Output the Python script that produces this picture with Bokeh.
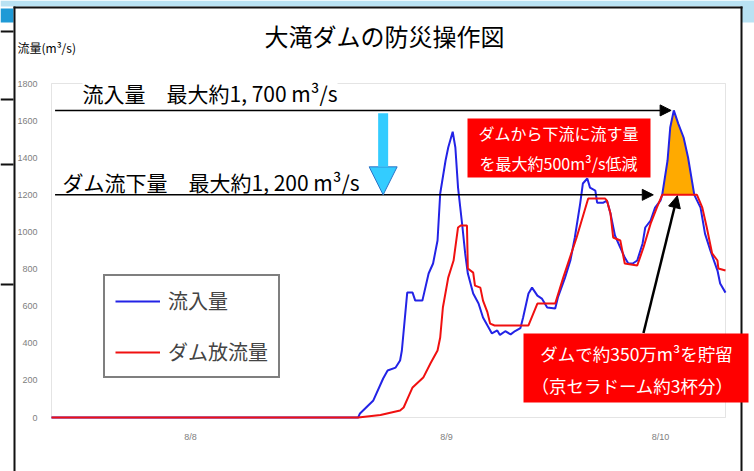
import numpy as np
from bokeh.plotting import figure
from bokeh.models import (Range1d, FixedTicker, Label, BoxAnnotation, Arrow,
                          NormalHead, Legend, LegendItem)
from bokeh.embed import file_html
from bokeh.resources import INLINE

# ---- flood record, Otaki Dam (hours from start of record, m3/s) ----
inflow_hours = [0, 34.4, 34.6, 36.1, 37.2, 37.7, 38.6, 39.1, 39.3, 39.9, 40.5,
                40.8, 41.6, 42.3, 42.8, 43.3, 43.6, 44.2, 44.5, 45.0, 45.3,
                45.6, 46.1, 46.4, 46.7, 47.3, 47.9, 48.4, 49.4, 50.0, 50.3,
                50.9, 51.5, 52.0, 52.6, 52.9, 53.5, 53.9, 54.5, 55.0, 55.6,
                56.5, 56.8, 57.6, 58.2, 58.7, 59.3, 59.6, 60.1, 60.4, 61.0,
                61.2, 61.9, 62.3, 62.7, 63.2, 63.8, 64.3, 64.7, 65.2, 65.7,
                66.3, 66.6, 67.2, 67.7, 68.3, 68.5, 69.1, 69.4, 69.8, 70.3,
                70.9, 71.4, 72.1, 72.8, 73.3, 73.9, 74.7, 75.0, 75.6]
inflow = [0, 0, 22, 92, 210, 253, 269, 307, 361, 673, 673,
          630, 630, 776, 830, 954, 1207, 1385, 1455, 1540, 1455,
          1239, 1024, 884, 776, 668, 614, 539, 453, 469, 445,
          465, 448, 466, 482, 539, 668, 700, 657, 641, 593,
          587, 647, 754, 846, 970, 1153, 1261, 1288, 1239, 1223,
          1158, 1158, 1169, 1099, 981, 916, 862, 830, 830, 846,
          938, 1024, 1061, 1131, 1169, 1200, 1385, 1563, 1655, 1584,
          1509, 1401, 1200, 1131, 991, 900, 792, 722, 673]

release_hours = [0, 34.4, 36.9, 39.1, 39.5, 40.0, 40.5, 41.7, 42.5, 43.3,
                 43.6, 43.9, 44.5, 45.1, 45.6, 45.9, 46.6, 46.7, 47.3, 47.5,
                 48.1, 48.4, 48.9, 49.2, 49.7, 53.5, 54.5, 56.5, 57.4, 58.9,
                 60.2, 62.1, 62.3, 62.7, 63.0, 63.8, 64.3, 65.7, 66.4, 67.2,
                 67.9, 68.5, 72.4, 73.0, 73.5, 74.1, 74.7, 74.8, 75.6]
release = [0, 0, 14, 38, 54, 108, 162, 215, 291, 361,
           431, 593, 754, 846, 1024, 1035, 1035, 803, 781, 711,
           700, 630, 566, 506, 496, 496, 614, 614, 754, 970,
           1180, 1180, 1169, 1099, 970, 954, 830, 819, 916, 1045,
           1131, 1200, 1200, 1131, 1024, 884, 846, 803, 792]

day_tick_hours = [15.6, 44.3, 68.3]
day_labels = ["8/8", "8/9", "8/10"]
flow_ticks = [0, 200, 400, 600, 800, 1000, 1200, 1400, 1600, 1800]

JP = "Noto Sans CJK JP"
W, H = 754, 471

# chart area on the slide (pixels) and its data extent
AREA_L, AREA_R, AREA_T, AREA_B = 51, 725, 83, 417
X0, X1 = 0.0, 75.6
Y0, Y1 = 0.0, 1800.0
kx = (AREA_R - AREA_L) / (X1 - X0)
ky = (AREA_B - AREA_T) / (Y1 - Y0)
x_range = Range1d(X0 - AREA_L / kx, X1 + (W - AREA_R) / kx)
y_range = Range1d(Y0 - (H - AREA_B) / ky, Y1 + AREA_T / ky)

p = figure(width=W, height=H, x_range=x_range, y_range=y_range,
           output_backend="svg", toolbar_location=None, min_border=0)
p.background_fill_color = "white"
p.border_fill_color = "white"
p.outline_line_color = None
p.grid.visible = False

# axes pinned to the chart area's edges
p.yaxis.fixed_location = X0
p.xaxis.fixed_location = Y0
p.yaxis.ticker = FixedTicker(ticks=flow_ticks)
p.xaxis.ticker = FixedTicker(ticks=day_tick_hours)
p.xaxis.major_label_overrides = {t: s for t, s in zip(day_tick_hours, day_labels)}
for ax in (p.xaxis, p.yaxis):
    ax.axis_line_color = None
    ax.major_tick_line_color = None
    ax.minor_tick_line_color = None
    ax.major_label_text_color = "#808080"
    ax.major_label_text_font = "Liberation Sans"
    ax.major_label_text_font_size = "9px"
p.yaxis.major_label_standoff = 8
p.xaxis.major_label_standoff = 8


def box(l, r, t, b, color):
    p.add_layout(BoxAnnotation(left=l, right=r, top=t, bottom=b,
                               left_units="canvas", right_units="canvas",
                               top_units="canvas", bottom_units="canvas",
                               fill_color=color, fill_alpha=1, line_color=None,
                               level="underlay"))


# ---- slide frame around the chart ----
box(0, W, 0, 6, "#b9e2f3")
box(741, W, 0, 22, "#b9e2f3")
box(0, 13, 8, 22, "#1f9ad6")
box(13, 15, 6, H, "#111111")
box(13, 742, 6, 8, "#111111")
box(740, 742, 6, H, "#111111")
for yy in (30, 98, 163, 283):
    box(0, 13, yy, yy + 2, "#111111")

# chart area border
p.add_layout(BoxAnnotation(left=X0, right=X1, bottom=Y0, top=Y1, fill_alpha=0,
                           line_color="#a6a6a6", line_width=1, level="underlay"))

# ---- reduced peak (stored volume) ----
cap = max(release)
ipk = int(np.argmax(inflow))
lo = ipk
while lo > 0 and inflow[lo - 1] >= cap:
    lo -= 1
hi = ipk
while hi < len(inflow) - 1 and inflow[hi + 1] >= cap:
    hi += 1
p.varea(x=inflow_hours[lo:hi + 1], y1=[cap] * (hi + 1 - lo), y2=inflow[lo:hi + 1],
        fill_color="#ffaa00")

r_in = p.line(inflow_hours, inflow, line_color="#2323e6", line_width=2)
r_out = p.line(release_hours, release, line_color="#f01010", line_width=2)

legend = Legend(items=[LegendItem(label="流入量", renderers=[r_in]),
                       LegendItem(label="ダム放流量", renderers=[r_out])],
                location=(103, H - 378), border_line_color="black", border_line_width=2,
                padding=10, spacing=22, glyph_width=45, glyph_height=24,
                label_height=24, label_text_font=JP, label_text_font_size="20px",
                label_standoff=8, margin=0)
p.add_layout(legend)

# ---- maximum-flow arrows ----
peak_h = inflow_hours[ipk]
peak_v = inflow[ipk]
p.add_layout(Arrow(end=NormalHead(size=11, fill_color="black", line_color="black"),
                   x_start=0.4, y_start=peak_v, x_end=peak_h - 0.3, y_end=peak_v,
                   line_color="black", line_width=1.5))
cap_h = release_hours[release.index(cap)]
p.add_layout(Arrow(end=NormalHead(size=11, fill_color="black", line_color="black"),
                   x_start=0.4, y_start=cap, x_end=cap_h - 1.0, y_end=cap,
                   line_color="black", line_width=1.5))
p.add_layout(Arrow(end=NormalHead(size=28, fill_color="#33ccff", line_color="#2b73c8",
                                  line_width=1),
                   x_start=37.2, y_start=1640, x_end=37.2, y_end=cap,
                   line_color="#33ccff", line_width=10))
p.add_layout(Arrow(end=NormalHead(size=12, fill_color="black", line_color="black"),
                   x_start=66.4, y_start=455, x_end=70.2, y_end=cap - 5,
                   line_color="black", line_width=2.5))


# ---- texts ----
def label(x, y, text, size, color="black", align="left", bg=None, font=JP):
    p.add_layout(Label(x=x, y=y, x_units="canvas", y_units="canvas", text=text,
                       text_font=font, text_font_size=size, text_color=color,
                       text_align=align, text_baseline="middle",
                       background_fill_color=bg, background_fill_alpha=1 if bg else 0))


label(384, 35, "大滝ダムの防災操作図", "24px", align="center")
label(17, 47, "流量(m³/s)", "12px")
label(82, 92, "流入量　最大約1, 700 m³/s", "21px", bg="white")
label(62, 181, "ダム流下量　最大約1, 200 m³/s", "21px")

box(467, 650, 118, 177, "#ff0000")
label(558, 132, "ダムから下流に流す量", "16px", color="white", align="center")
label(558, 162, "を最大約500m³/s低減", "16px", color="white", align="center")

box(523, 748, 333, 402, "#ff0000")
label(636, 353, "ダムで約350万m³を貯留", "17.5px", color="white", align="center")
label(632, 385, "（京セラドーム約3杯分）", "17.5px", color="white", align="center")

open("out.html", "w").write(file_html(p, INLINE))
